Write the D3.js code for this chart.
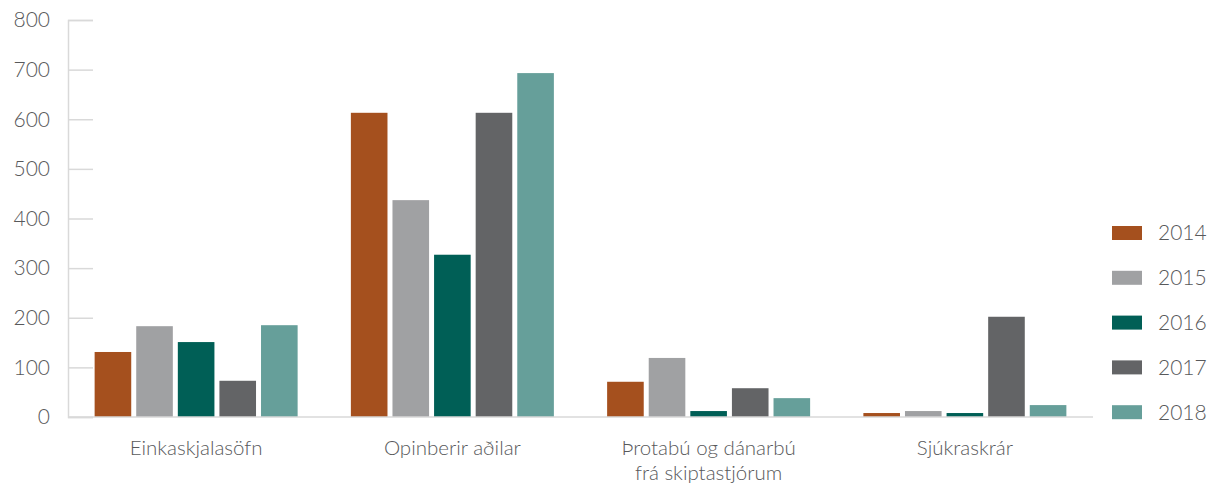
<!DOCTYPE html>
<html>
<head>
<meta charset="utf-8">
<script src="https://cdn.jsdelivr.net/npm/d3@7"></script>
<style>
  body { margin: 0; background: #fff; }
  text { font-family: Lato, "Open Sans", sans-serif; font-weight: 300; fill: #58595b; }
</style>
</head>
<body>
<script>
const categories = [
  ["Einkaskjalasöfn"],
  ["Opinberir aðilar"],
  ["Þrotabú og dánarbú", "frá skiptastjórum"],
  ["Sjúkraskrár"]
];
const years = ["2014", "2015", "2016", "2017", "2018"];
const values2014 = [131, 613, 71, 8];
const values2015 = [183, 437, 119, 12];
const values2016 = [151, 327, 12, 8];
const values2017 = [73, 613, 58, 202];
const values2018 = [185, 693, 38, 24];
const yTicks = [0, 100, 200, 300, 400, 500, 600, 700, 800];
const colors = ["#a5501e", "#a0a1a3", "#005f56", "#636466", "#669f9a"];

const series = [values2014, values2015, values2016, values2017, values2018];
const w = 1211;
const h = 490;
const plotLeft = 68, plotRight = 1093, plotTop = 20, plotBottom = 417;

const svg = d3.select("body").append("svg")
  .attr("width", w)
  .attr("height", h);

const xScale = d3.scaleBand()
  .domain(d3.range(categories.length))
  .range([plotLeft, plotRight]);

const inner = d3.scaleBand()
  .domain(years)
  .range([0, 203])
  .paddingInner(0.12);

const yScale = d3.scaleLinear()
  .domain([0, 800])
  .range([plotBottom, plotTop]);

// y axis: ticks point into the plot
const yAxis = d3.axisRight(yScale).tickValues(yTicks).tickSize(25).tickFormat("");
const gy = svg.append("g").attr("transform", "translate(" + plotLeft + ",0)").call(yAxis);
gy.select(".domain").attr("stroke", "#d9d9d9").attr("stroke-width", 1.5);
gy.selectAll(".tick line").attr("stroke", "#d9d9d9").attr("stroke-width", 1.5);

svg.append("g").selectAll("text")
  .data(yTicks)
  .enter()
  .append("text")
  .attr("x", 50)
  .attr("y", (d) => yScale(d))
  .attr("dy", "0.35em")
  .attr("text-anchor", "end")
  .style("font-size", "21px")
  .text((d) => d);

// bars
series.forEach((vals, si) => {
  svg.append("g")
    .selectAll("rect")
    .data(vals)
    .enter()
    .append("rect")
    .attr("x", (d, i) => xScale(i) + (xScale.bandwidth() - 203) / 2 + inner(years[si]))
    .attr("width", inner.bandwidth())
    .attr("y", (d) => yScale(d))
    .attr("height", (d) => plotBottom - yScale(d))
    .style("fill", colors[si]);
});

// x baseline
svg.append("line")
  .attr("x1", plotLeft).attr("x2", plotRight)
  .attr("y1", plotBottom).attr("y2", plotBottom)
  .attr("stroke", "#d9d9d9")
  .attr("stroke-width", 1.5);

// category labels
categories.forEach((lines, i) => {
  const t = svg.append("text")
    .attr("x", xScale(i) + xScale.bandwidth() / 2)
    .attr("y", 455)
    .attr("text-anchor", "middle")
    .style("font-size", "20.5px");
  lines.forEach((l, j) => {
    t.append("tspan")
      .attr("x", xScale(i) + xScale.bandwidth() / 2)
      .attr("dy", j === 0 ? 0 : 25)
      .text(l);
  });
});

// legend
const legend = svg.append("g").attr("transform", "translate(1112,233)");
years.forEach((y, i) => {
  const g = legend.append("g").attr("transform", "translate(0," + i * 44.8 + ")");
  g.append("rect").attr("x", 0).attr("y", -7).attr("width", 30).attr("height", 14).style("fill", colors[i]);
  g.append("text").attr("x", 46).attr("y", 0).attr("dy", "0.35em").style("font-size", "21px").text(y);
});
</script>
</body>
</html>
